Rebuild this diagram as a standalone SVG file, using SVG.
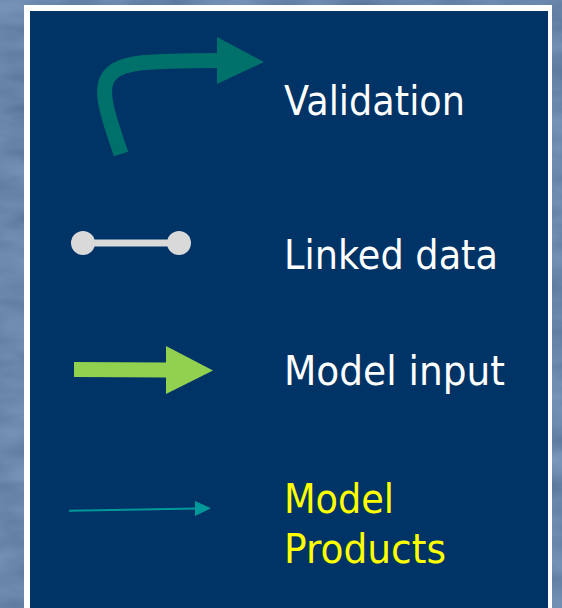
<svg xmlns="http://www.w3.org/2000/svg" width="562" height="608" viewBox="0 0 562 608">
  <defs>
    <filter id="marble" x="0" y="0" width="100%" height="100%" color-interpolation-filters="sRGB">
      <feTurbulence type="fractalNoise" baseFrequency="0.015 0.04" numOctaves="3" seed="4" result="n"/>
      <feColorMatrix in="n" type="matrix" values="0.18 0 0 0 0.32  0.18 0 0 0 0.44  0.18 0 0 0 0.58  0 0 0 0 1"/>
    </filter>
    <style>
      .label { font-family: "DejaVu Sans", "Liberation Sans", sans-serif; font-size: 41px; fill: #ffffff; }
      .yellow { fill: #ffff00; }
    </style>
  </defs>

  <!-- textured backdrop -->
  <rect x="0" y="0" width="562" height="608" fill="#6b88ab" filter="url(#marble)"/>

  <!-- legend panel -->
  <rect x="24" y="5" width="528" height="620" fill="#ffffff"/>
  <rect x="30" y="11" width="518" height="620" fill="#003366"/>

  <g id="connectors">
    <!-- validation: curved bold arrow -->
    <g id="validation-arrow">
      <path d="M121,154 C109,118 96,86 112,73 C124,62 145,61 220,60.5" fill="none" stroke="#00706a" stroke-width="15"/>
      <polygon points="217,37 264,62 217,84" fill="#00706a"/>
    </g>
    <!-- linked data: bar with round ends -->
    <g id="linked-arrow">
      <line x1="83" y1="243" x2="179" y2="243" stroke="#d9d9d9" stroke-width="7"/>
      <circle cx="83" cy="243" r="12" fill="#d9d9d9"/>
      <circle cx="179" cy="243" r="12" fill="#d9d9d9"/>
    </g>
    <!-- model input: block arrow -->
    <g id="input-arrow">
      <polygon points="74,362 166,362.5 166,346 213,370.5 166,394 166,377.5 74,377" fill="#92d050"/>
    </g>
    <!-- model products: thin arrow -->
    <g id="products-arrow">
      <line x1="69" y1="510.7" x2="197" y2="508.6" stroke="#009999" stroke-width="2"/>
      <polygon points="195,501 211,508.3 195,516" fill="#009999"/>
    </g>
  </g>

  <g id="node-validation">
    <text class="label" x="284" y="115" textLength="181" lengthAdjust="spacingAndGlyphs">Validation</text>
  </g>
  <g id="node-linked-data">
    <text class="label" x="284" y="269" textLength="214" lengthAdjust="spacingAndGlyphs">Linked data</text>
  </g>
  <g id="node-model-input">
    <text class="label" x="284" y="385" textLength="221" lengthAdjust="spacingAndGlyphs">Model input</text>
  </g>
  <g id="node-model-products">
    <text class="label yellow" x="284" y="513" textLength="110" lengthAdjust="spacingAndGlyphs">Model</text>
    <text class="label yellow" x="284" y="563" textLength="162" lengthAdjust="spacingAndGlyphs">Products</text>
  </g>
</svg>
